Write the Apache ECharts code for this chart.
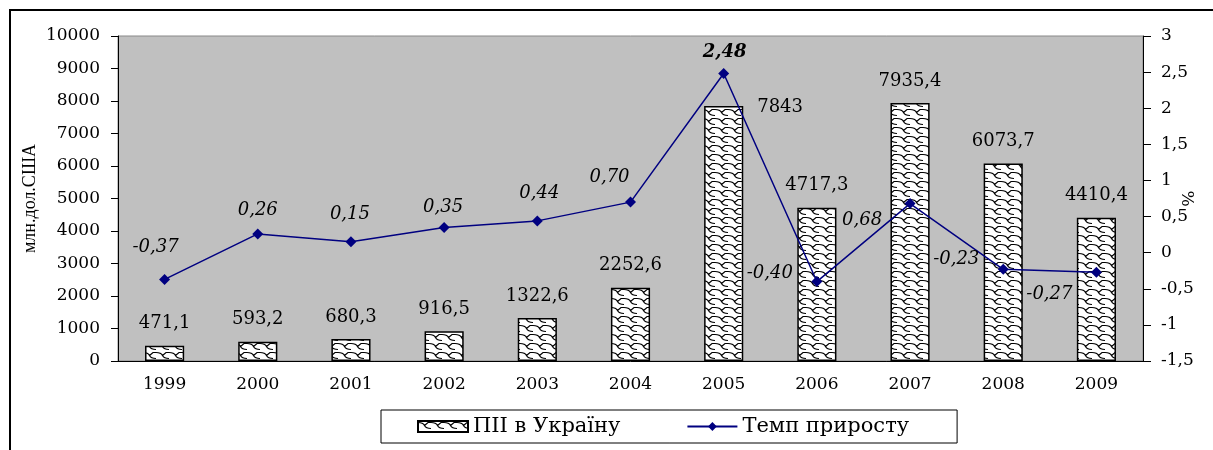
<!DOCTYPE html>
<html>
<head>
<meta charset="utf-8">
<script src="https://cdn.jsdelivr.net/npm/echarts@6/dist/echarts.min.js"></script>
<style>
  html, body { margin: 0; padding: 0; background: #fff; }
  #chart { width: 1213px; height: 450px; }
</style>
</head>
<body>
<div id="chart"></div>
<script>
// data
const years = ['1999', '2000', '2001', '2002', '2003', '2004', '2005', '2006', '2007', '2008', '2009']
const fdiValues = [471.1, 593.2, 680.3, 916.5, 1322.6, 2252.6, 7843, 4717.3, 7935.4, 6073.7, 4410.4]
const growthValues = [-0.37, 0.26, 0.15, 0.35, 0.44, 0.70, 2.48, -0.40, 0.68, -0.23, -0.27]
const leftTicks = { min: 0, max: 10000, interval: 1000 }
const rightTicks = { min: -1.5, max: 3, interval: 0.5 }

// label offsets for the growth line (label centre minus marker centre)
const growthLabelShift = [
  [-9, -32], [0, -24], [-1, -28], [-1, -20], [2, -28], [-21, -25],
  [1, -21], [-47, -8], [-48, 17], [-47, -10], [-47, 22]
]

const serif = 'DejaVu Serif'

function comma(v) {
  return String(v).replace('.', ',')
}

// zigzag hatch used for the bars
function makeHatch() {
  const c = document.createElement('canvas')
  c.width = 13
  c.height = 9
  const ctx = c.getContext('2d')
  ctx.fillStyle = '#fff'
  ctx.fillRect(0, 0, 13, 9)
  ctx.strokeStyle = '#000'
  ctx.lineWidth = 1.2
  ctx.beginPath()
  ctx.moveTo(0, 1.5)
  ctx.quadraticCurveTo(5, 1.5, 6.5, 4.5)
  ctx.quadraticCurveTo(8, 7.5, 13, 7.5)
  ctx.moveTo(6.5, 4.5)
  ctx.lineTo(10, 1.5)
  ctx.lineTo(13, 1.5)
  ctx.stroke()
  return c
}

const chart = echarts.init(document.getElementById('chart'))
const hatch = { image: makeHatch(), repeat: 'repeat' }

chart.setOption({
  backgroundColor: '#fff',
  animation: false,
  textStyle: { fontFamily: serif, color: '#000' },
  graphic: [{
    type: 'rect',
    shape: { x: 10, y: 10, width: 1300, height: 600 },
    style: { fill: 'none', stroke: '#000', lineWidth: 2 }
  }],
  grid: {
    left: 118,
    right: 70,
    top: 36,
    bottom: 89,
    outerBoundsMode: 'none',
    containLabel: false,
    show: true,
    backgroundColor: '#c0c0c0',
    borderColor: '#888',
    borderWidth: 1
  },
  legend: {
    left: 381,
    top: 410,
    padding: [6, 48, 6, 36],
    itemGap: 66,
    itemWidth: 50,
    itemHeight: 11,
    borderColor: '#000',
    borderWidth: 1,
    textStyle: { fontFamily: serif, fontSize: 21, color: '#000' },
    data: [{ name: 'ПІІ в Україну', icon: 'rect' }, { name: 'Темп приросту' }]
  },
  xAxis: {
    type: 'category',
    data: years,
    axisLine: { lineStyle: { color: '#000', width: 1 } },
    axisTick: { length: 6, lineStyle: { color: '#000' } },
    axisLabel: { margin: 15, fontSize: 17, fontFamily: serif, color: '#000' }
  },
  yAxis: [
    {
      type: 'value',
      min: leftTicks.min,
      max: leftTicks.max,
      interval: leftTicks.interval,
      name: 'млн.дол.США',
      nameLocation: 'middle',
      nameGap: 79,
      nameMoveOverlap: false,
      nameTextStyle: { fontFamily: 'Liberation Serif', fontSize: 18, color: '#000' },
      axisLine: { show: true, lineStyle: { color: '#000', width: 1 } },
      axisTick: { show: true, length: 7, lineStyle: { color: '#000' } },
      splitLine: { show: false },
      axisLabel: {
        margin: 18, fontSize: 17, fontFamily: serif, color: '#000',
        formatter: v => String(v)
      }
    },
    {
      type: 'value',
      position: 'right',
      min: rightTicks.min,
      max: rightTicks.max,
      interval: rightTicks.interval,
      name: '%',
      nameLocation: 'middle',
      nameGap: 35,
      nameRotate: -90,
      nameMoveOverlap: false,
      nameTextStyle: { fontFamily: serif, fontSize: 17, color: '#000' },
      axisLine: { show: true, lineStyle: { color: '#000', width: 1 } },
      axisTick: { show: true, length: 8, lineStyle: { color: '#000' } },
      splitLine: { show: false },
      axisLabel: {
        margin: 18, fontSize: 17, fontFamily: serif, color: '#000',
        formatter: v => comma(v)
      }
    }
  ],
  series: [
    {
      name: 'ПІІ в Україну',
      type: 'bar',
      yAxisIndex: 0,
      barWidth: '42%',
      itemStyle: { color: hatch, borderColor: '#000', borderWidth: 1.5 },
      label: {
        show: true,
        position: 'top',
        distance: 13,
        fontSize: 18,
        fontFamily: serif,
        color: '#000',
        formatter: p => comma(p.value)
      },
      data: fdiValues.map((v, i) => i === 6
        ? { value: v, label: { position: [76, 1], align: 'center', verticalAlign: 'middle' } }
        : v)
    },
    {
      name: 'Темп приросту',
      type: 'line',
      yAxisIndex: 1,
      symbol: 'diamond',
      symbolSize: 11,
      lineStyle: { color: '#000080', width: 1.5 },
      itemStyle: { color: '#000080' },
      label: {
        show: true,
        fontSize: 18,
        fontStyle: 'italic',
        fontFamily: serif,
        color: '#000',
        align: 'center',
        verticalAlign: 'middle',
        formatter: p => comma(p.value.toFixed(2))
      },
      data: growthValues.map((v, i) => ({
        value: v,
        label: {
          position: [growthLabelShift[i][0] + 5.5, growthLabelShift[i][1] + 5.5],
          fontWeight: i === 6 ? 'bold' : 'normal'
        }
      }))
    }
  ]
})
</script>
</body>
</html>
